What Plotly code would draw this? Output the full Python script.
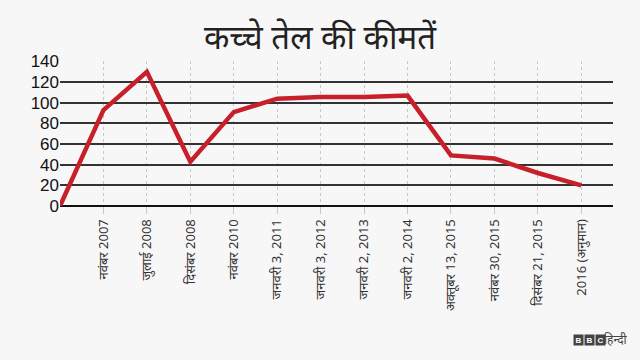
import plotly.graph_objects as go

title = "कच्चे तेल की कीमतें"
categories = ["", "नवंबर 2007", "जुलाई 2008", "दिसंबर 2008", "नवंबर 2010",
              "जनवरी 3, 2011", "जनवरी 3, 2012", "जनवरी 2, 2013", "जनवरी 2, 2014",
              "अक्तूबर 13, 2015", "नवंबर 30, 2015", "दिसंबर 21, 2015", "2016 (अनुमान)"]
prices = [0, 93, 130, 43, 91, 104, 105.5, 105.5, 107, 49, 46, 32, 20]
y_ticks = [0, 20, 40, 60, 80, 100, 120, 140]

x_idx = list(range(len(categories)))

fig = go.Figure()
fig.add_trace(go.Scatter(
    x=x_idx, y=prices, mode="lines",
    line=dict(color="#c8202a", width=4.5),
    hoverinfo="skip", showlegend=False,
))

bg = "#f7f7f7"
fig.update_layout(
    width=640, height=360,
    paper_bgcolor=bg, plot_bgcolor=bg,
    margin=dict(l=60, r=27, t=61, b=154),
    title=dict(text=title, x=0.5, xanchor="center", y=0.895, yanchor="middle",
               font=dict(size=33, color="#222", family="Noto Sans, sans-serif")),
    font=dict(family="Liberation Sans, Arial, sans-serif"),
)

fig.update_xaxes(
    range=[0, 12.73],
    tickvals=x_idx[1:], ticktext=categories[1:],
    tickangle=-90,
    tickfont=dict(size=13, color="#333", family="Noto Sans, Liberation Sans, sans-serif"),
    showgrid=True, gridcolor="#c8c8c8", griddash="dot", gridwidth=1,
    ticks="outside", ticklen=7, tickcolor="#c8c8c8", tickwidth=1,
    showline=False, zeroline=False,
)
fig.update_yaxes(
    range=[0, 140.5],
    tickvals=y_ticks, ticktext=[str(v) for v in y_ticks],
    tickfont=dict(size=17, color="#111"),
    showgrid=True, gridcolor="#333", gridwidth=1.5,
    zeroline=True, zerolinecolor="#111", zerolinewidth=2,
    showline=False, ticks="",
)

# BBC Hindi logo
for i, letter in enumerate(["B", "B", "C"]):
    fig.add_annotation(
        xref="paper", yref="paper", x=0, y=0,
        xanchor="center", yanchor="middle",
        text=f"<b>{letter}</b>", showarrow=False,
        font=dict(size=8, color="white", family="Liberation Sans, Arial"),
        bgcolor="#444", width=9, height=10, borderpad=0,
        xshift=518 + i * 11, yshift=-134,
    )
fig.add_annotation(
    xref="paper", yref="paper", x=0, y=0,
    xanchor="center", yanchor="middle",
    text="हिन्दी", showarrow=False,
    font=dict(size=12, color="#444", family="Noto Sans, sans-serif"),
    xshift=556, yshift=-133,
)

fig.write_html("out.html")
